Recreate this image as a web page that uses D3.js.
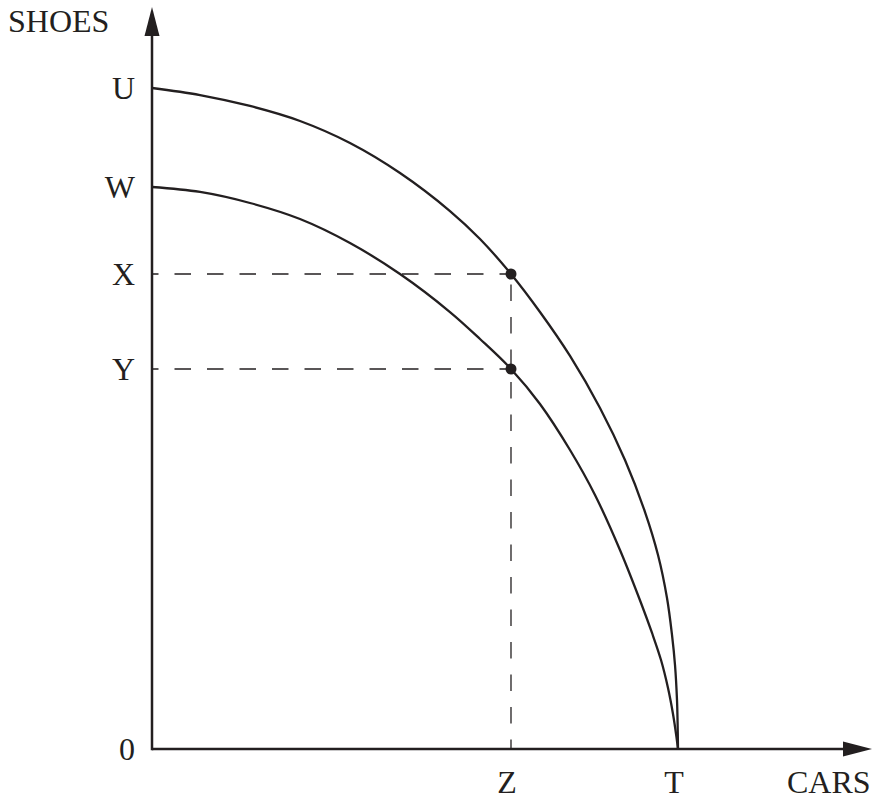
<!DOCTYPE html>
<html>
<head>
<meta charset="utf-8">
<script src="https://cdn.jsdelivr.net/npm/d3@7"></script>
<style>
  body { margin: 0; background: #fff; }
  text { font-family: "Liberation Serif", "Times New Roman", serif; font-size: 32px; fill: #231f20; }
</style>
</head>
<body>
<svg width="874" height="800"></svg>
<script>
'use strict';

// production possibility curves (cars, shoes); T = 100, U = 100
const outerCurve = [
  [0, 100], [9.13, 98.94], [18.63, 97.28], [28.14, 95.01], [37.64, 91.68], [47.15, 87.14],
  [56.65, 81.39], [62.36, 77.16], [68.25, 71.86], [73.76, 66.11], [79.47, 59.46],
  [85.17, 51.59], [89.92, 43.72], [93.73, 35.85], [96.20, 29.35], [97.91, 22.84],
  [98.86, 17.25], [99.43, 12.71], [99.81, 7.41], [99.92, 4.08], [100, 0]
];
const innerCurve = [
  [0, 85.02], [9.13, 84.27], [18.63, 82.60], [28.14, 80.18], [37.64, 76.55], [47.15, 71.86],
  [56.65, 66.11], [62.36, 62.03], [68.25, 57.49], [73.76, 52.19], [79.47, 45.23],
  [84.22, 38.43], [88.97, 30.11], [92.97, 22.09], [95.06, 17.55], [96.77, 13.46],
  [98.10, 9.23], [99.05, 5.30], [99.71, 1.82], [100, 0]
];
const yTickLabels = ['U', 'W', 'X', 'Y', '0'];
const yTickValues = [100, 85.02, 71.86, 57.49, 0];
const xTickLabels = ['Z', 'T'];
const xTickValues = [68.25, 100];
const points = [[68.25, 71.86], [68.25, 57.49]];
const axisTitles = ['CARS', 'SHOES'];

const ink = '#231f20';
const svg = d3.select('svg');

const x = d3.scaleLinear().domain([0, 100]).range([152, 678]);
const y = d3.scaleLinear().domain([0, 100]).range([749, 88]);

// axes with arrow heads
const xEnd = 872, yEnd = 7, head = 29, half = 7.5;
svg.append('line')
  .attr('x1', x(0)).attr('y1', y(0)).attr('x2', xEnd - head + 2).attr('y2', y(0))
  .attr('stroke', ink).attr('stroke-width', 2.5);
svg.append('path')
  .attr('d', `M${xEnd},${y(0)} L${xEnd - head},${y(0) - half} L${xEnd - head},${y(0) + half} Z`)
  .attr('fill', ink);
svg.append('line')
  .attr('x1', x(0)).attr('y1', y(0) + 1.2).attr('x2', x(0)).attr('y2', yEnd + head - 2)
  .attr('stroke', ink).attr('stroke-width', 2.5);
svg.append('path')
  .attr('d', `M${x(0)},${yEnd} L${x(0) - half},${yEnd + head} L${x(0) + half},${yEnd + head} Z`)
  .attr('fill', ink);

// dashed guides
const dash = '16.5,16';
points.forEach(p => {
  svg.append('line')
    .attr('x1', x(0)).attr('y1', y(p[1])).attr('x2', x(p[0])).attr('y2', y(p[1]))
    .attr('stroke', ink).attr('stroke-width', 1.3)
    .attr('stroke-dasharray', dash).attr('stroke-dashoffset', 10);
});
svg.append('line')
  .attr('x1', x(points[0][0])).attr('y1', y(0)).attr('x2', x(points[0][0])).attr('y2', y(points[0][1]))
  .attr('stroke', ink).attr('stroke-width', 1.3)
  .attr('stroke-dasharray', dash).attr('stroke-dashoffset', 7);

// curves
const line = d3.line()
  .x(d => x(d[0]))
  .y(d => y(d[1]))
  .curve(d3.curveCatmullRom.alpha(0.5));

[outerCurve, innerCurve].forEach(c => {
  svg.append('path')
    .attr('d', line(c))
    .attr('fill', 'none')
    .attr('stroke', ink)
    .attr('stroke-width', 2.3);
});

svg.selectAll('circle.pt')
  .data(points)
  .join('circle')
  .attr('class', 'pt')
  .attr('cx', d => x(d[0]))
  .attr('cy', d => y(d[1]))
  .attr('r', 5.5)
  .attr('fill', ink);

// tick labels
svg.selectAll('text.ylab')
  .data(yTickLabels)
  .join('text')
  .attr('class', 'ylab')
  .attr('x', 135)
  .attr('y', (d, i) => y(yTickValues[i]) + 11)
  .attr('text-anchor', 'end')
  .text(d => d);

svg.selectAll('text.xlab')
  .data(xTickLabels)
  .join('text')
  .attr('class', 'xlab')
  .attr('x', (d, i) => x(xTickValues[i]) - 4)
  .attr('y', 793)
  .attr('text-anchor', 'middle')
  .text(d => d);

svg.append('text').attr('x', 787).attr('y', 793).text(axisTitles[0]);
svg.append('text').attr('x', 8).attr('y', 32).text(axisTitles[1]);
</script>
</body>
</html>
